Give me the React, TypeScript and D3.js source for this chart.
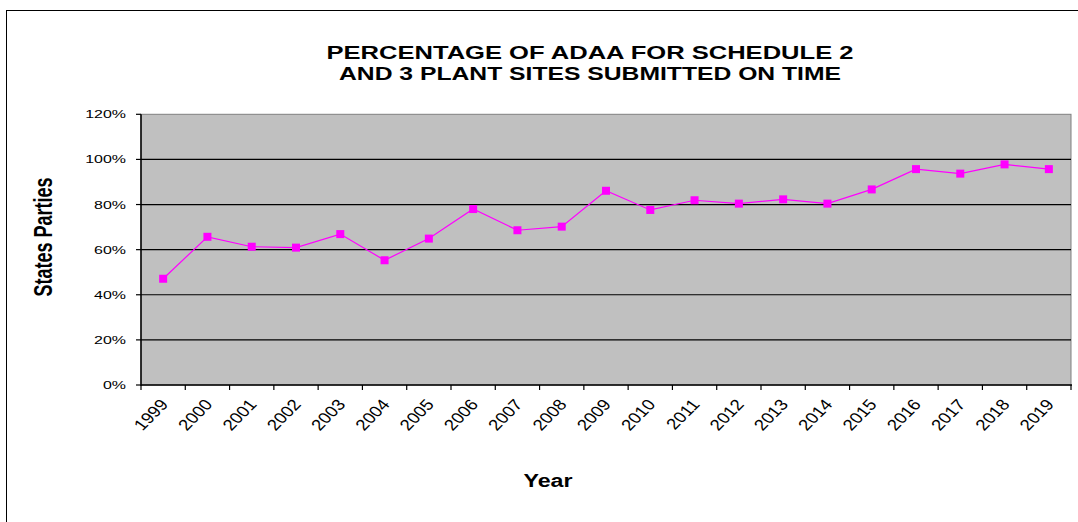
import React from 'react'
import * as d3 from 'd3'

// chart values
const years = ['1999', '2000', '2001', '2002', '2003', '2004', '2005', '2006', '2007', '2008',
  '2009', '2010', '2011', '2012', '2013', '2014', '2015', '2016', '2017', '2018', '2019']
const onTime = [47.1, 65.7, 61.3, 60.9, 66.9, 55.3, 64.9, 78.0, 68.6, 70.2,
  86.1, 77.6, 81.9, 80.4, 82.3, 80.4, 86.7, 95.7, 93.7, 97.8, 95.7]
const yTicks = [0, 20, 40, 60, 80, 100, 120]
const titleLines = ['PERCENTAGE OF ADAA FOR SCHEDULE 2', 'AND 3 PLANT SITES SUBMITTED ON TIME']

const font = '"Liberation Sans", Arial, sans-serif'
const stretch = 1.45

export default function App() {
  const left = 141, right = 1071, top = 114.3, bottom = 385

  const x = d3.scaleBand().domain(years).range([left, right])
  const y = d3.scaleLinear().domain([0, 120]).range([bottom, top])

  const line = d3.line<number>()
    .x((d, i) => x(years[i])! + x.bandwidth() / 2)
    .y(d => y(d))

  const boundaries = years.map(d => x(d)!).concat([right])

  return (
    <svg width={1078} height={522} style={{ position: 'absolute', left: 0, top: 0, background: '#fff' }}
      fontFamily={font}>
      <rect x={6.5} y={10.5} width={1090} height={530} fill="#fff" stroke="#000" strokeWidth={1} />

      {titleLines.map((t, i) => (
        <text key={t} x={590} y={59 + i * 21} textAnchor="middle" fontSize={18} fontWeight="bold"
          textLength={i === 0 ? 527 : 502} lengthAdjust="spacingAndGlyphs">{t}</text>
      ))}

      {/* plot area */}
      <rect x={left} y={top} width={right - left} height={bottom - top} fill="#C0C0C0" stroke="#808080" strokeWidth={1} />
      {yTicks.filter(t => t > 0 && t < 120).map(t => (
        <line key={t} x1={left} x2={right} y1={y(t)} y2={y(t)} stroke="#000" strokeWidth={1.2} />
      ))}
      <line x1={left} x2={right + 1} y1={bottom} y2={bottom} stroke="#000" strokeWidth={1.5} />
      <line x1={left} x2={left} y1={top} y2={bottom + 0.75} stroke="#000" strokeWidth={1.5} />

      {/* y axis */}
      {yTicks.map(t => (
        <g key={t}>
          <line x1={left - 5} x2={left} y1={y(t)} y2={y(t)} stroke="#000" strokeWidth={1.2} />
          <text transform={`translate(126,${y(t) + 4}) scale(${stretch},1)`} textAnchor="end" fontSize={11}>{t}%</text>
        </g>
      ))}
      <text transform={`translate(52,237) scale(${stretch},1) rotate(-90)`} textAnchor="middle" fontSize={18}
        fontWeight="bold">States Parties</text>

      {/* x axis */}
      {boundaries.map((b, i) => (
        <line key={i} x1={b} x2={b} y1={bottom} y2={bottom + 5} stroke="#000" strokeWidth={1.2} />
      ))}
      {years.map(d => (
        <text key={d} transform={`translate(${x(d)! + x.bandwidth() / 2 + 6},${bottom + 20}) scale(1.2,1) rotate(-50)`}
          textAnchor="end" fontSize={15.5}>{d}</text>
      ))}
      <text x={548} y={487} textAnchor="middle" fontSize={18} fontWeight="bold" textLength={49}
        lengthAdjust="spacingAndGlyphs">Year</text>

      {/* series */}
      <path d={line(onTime)!} fill="none" stroke="#FF00FF" strokeWidth={1.2} />
      {onTime.map((v, i) => (
        <rect key={i} x={x(years[i])! + x.bandwidth() / 2 - 4} y={y(v) - 4} width={8} height={8} fill="#FF00FF" />
      ))}
    </svg>
  )
}
